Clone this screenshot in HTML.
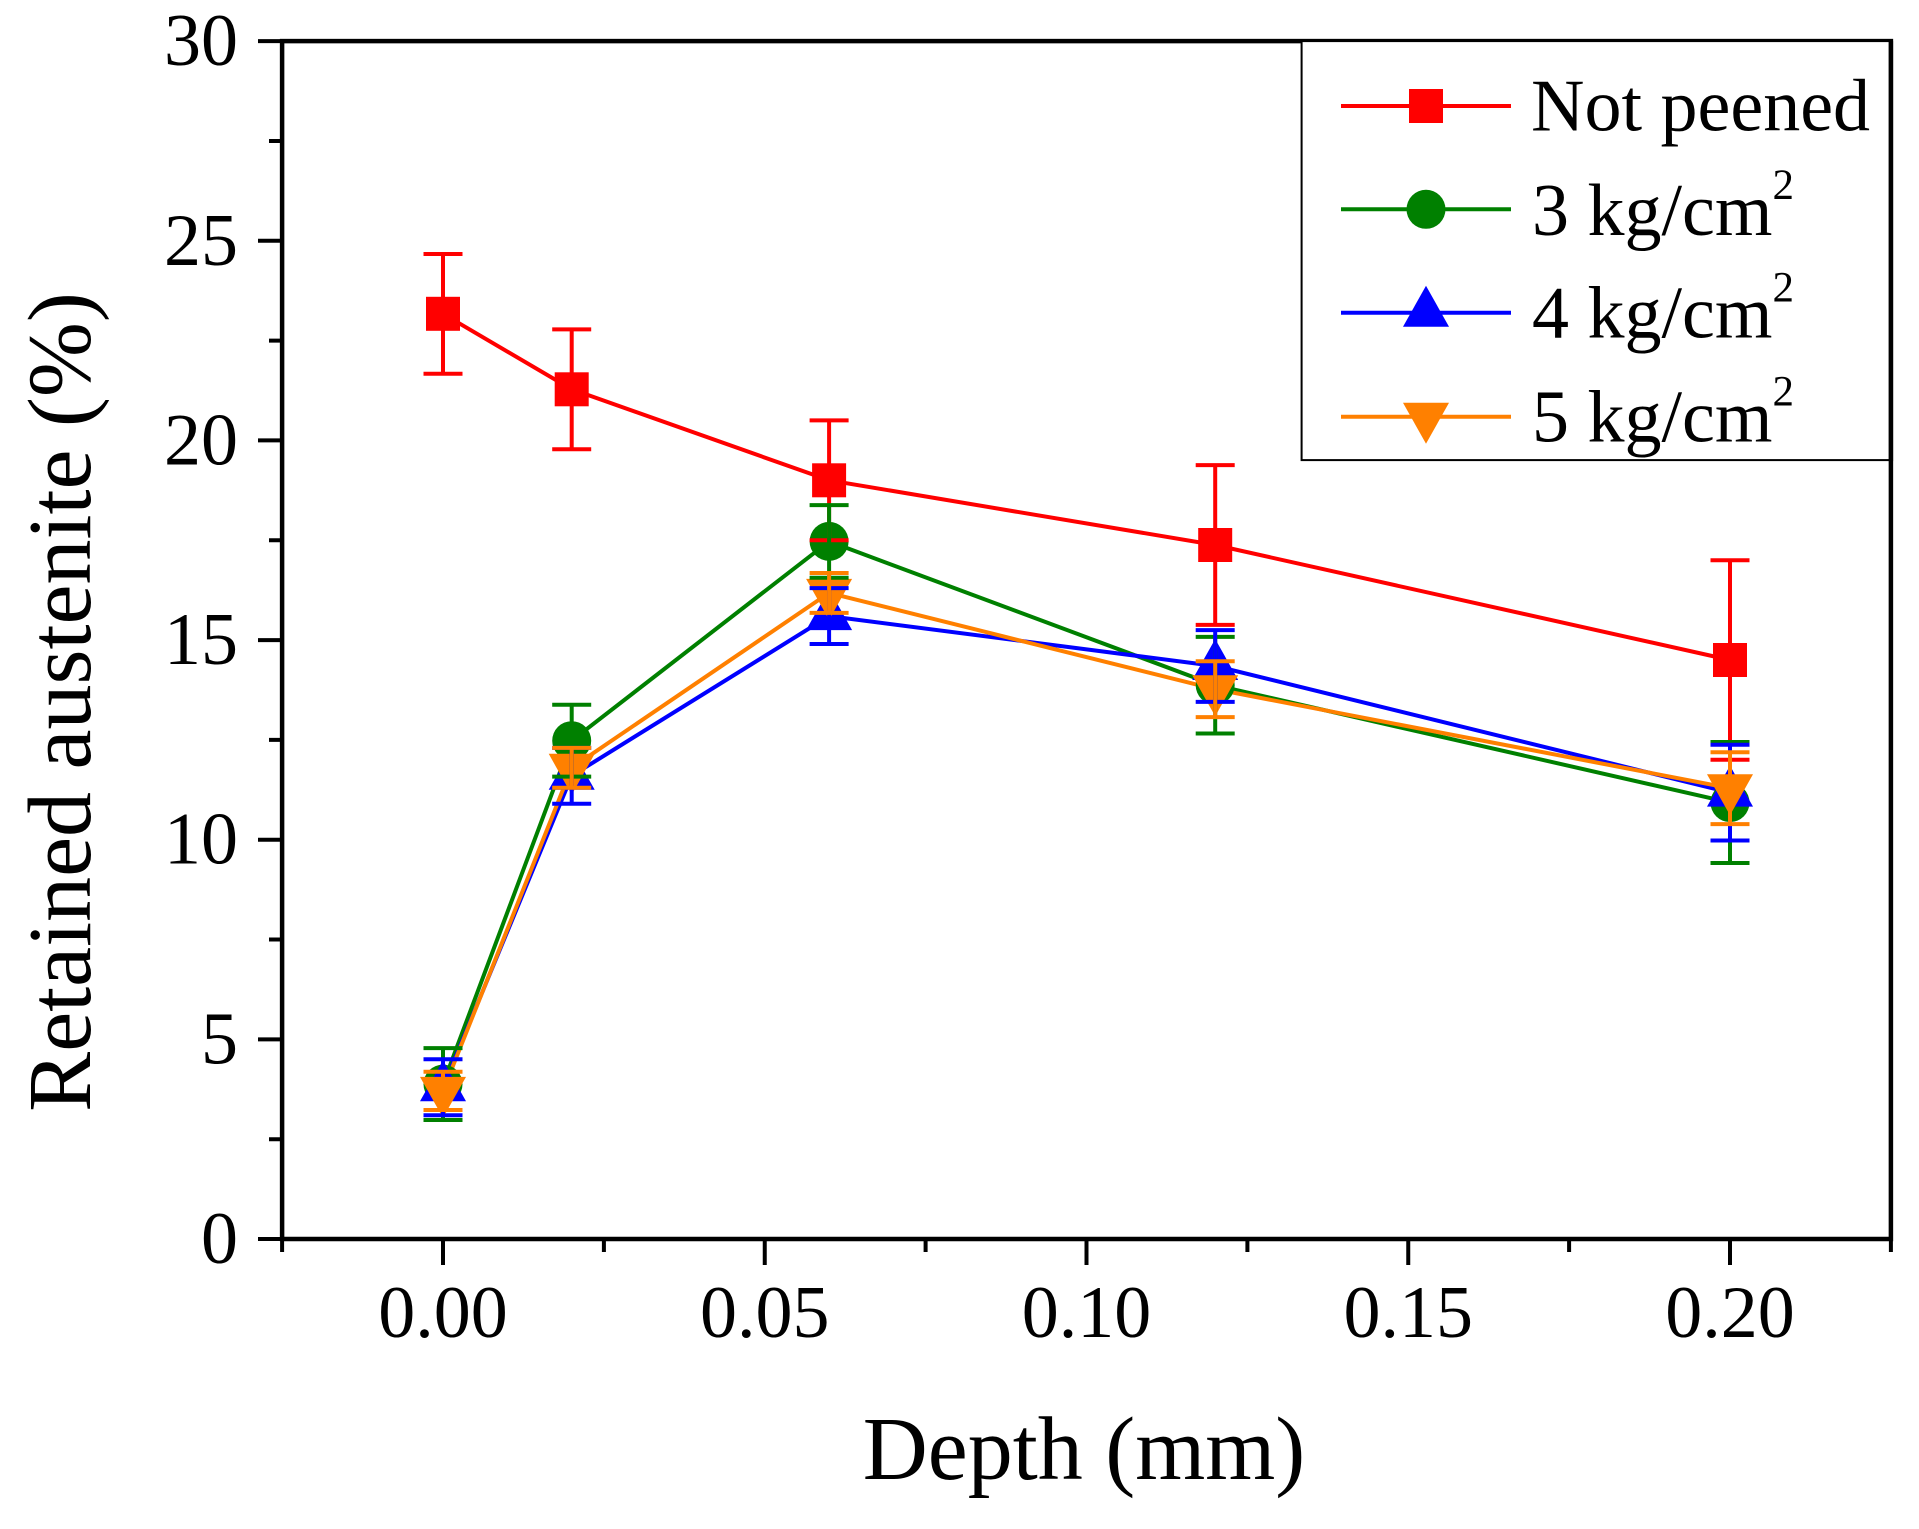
<!DOCTYPE html>
<html><head><meta charset="utf-8"><style>
html,body{margin:0;padding:0;background:#fff;}
svg{display:block;}
text{font-family:"Liberation Serif","Times New Roman",serif;fill:#000;}
</style></head><body>
<svg width="1919" height="1529" viewBox="0 0 1919 1529" xmlns="http://www.w3.org/2000/svg">
<rect width="1919" height="1529" fill="#fff"/>

<!-- data lines -->
<g fill="none" stroke-width="4" stroke-linejoin="round">
<polyline stroke="#FF0000" points="443,313.8 571.7,389.3 829.1,480.3 1215.2,545.0 1730,660.0"/>
<polyline stroke="#008000" points="443,1084.1 571.7,740.7 829.1,541.4 1215.2,685.2 1730,802.6"/>
<polyline stroke="#0000FF" points="443,1087.3 571.7,775.8 829.1,616.1 1215.2,666.0 1730,792.6"/>
<polyline stroke="#FF8000" points="443,1090.9 571.7,767.8 829.1,592.9 1215.2,689.2 1730,788.2"/>
</g>

<!-- markers -->
<g fill="#FF0000">
<rect x="426" y="296.8" width="34" height="34"/>
<rect x="554.7" y="372.3" width="34" height="34"/>
<rect x="812.1" y="463.3" width="34" height="34"/>
<rect x="1198.2" y="528" width="34" height="34"/>
<rect x="1713" y="643" width="34" height="34"/>
</g>
<g fill="#008000">
<circle cx="443" cy="1084.1" r="19.5"/>
<circle cx="571.7" cy="740.7" r="19.5"/>
<circle cx="829.1" cy="541.4" r="19.5"/>
<circle cx="1215.2" cy="685.2" r="19.5"/>
<circle cx="1730" cy="802.6" r="19.5"/>
</g>
<g fill="#0000FF">
<polygon points="443,1060.3 420,1101.3 466,1101.3"/>
<polygon points="571.7,748.8 548.7,789.8 594.7,789.8"/>
<polygon points="829.1,589.1 806.1,630.1 852.1,630.1"/>
<polygon points="1215.2,639 1192.2,680 1238.2,680"/>
<polygon points="1730,765.6 1707,806.6 1753,806.6"/>
</g>
<g fill="#FF8000">
<polygon points="420,1076.9 466,1076.9 443,1117.9"/>
<polygon points="548.7,753.8 594.7,753.8 571.7,794.8"/>
<polygon points="806.1,578.9 852.1,578.9 829.1,619.9"/>
<polygon points="1192.2,675.2 1238.2,675.2 1215.2,716.2"/>
<polygon points="1707,774.2 1753,774.2 1730,815.2"/>
</g>

<!-- error bars -->
<g fill="none" stroke-width="4" stroke="#FF0000">
<path d="M443,254V373.7M423.5,254H462.5M423.5,373.7H462.5"/>
<path d="M571.7,329.4V449.2M552.2,329.4H591.2M552.2,449.2H591.2"/>
<path d="M829.1,420.4V540.2M809.6,420.4H848.6M809.6,540.2H848.6"/>
<path d="M1215.2,465.1V624.9M1195.7,465.1H1234.7M1195.7,624.9H1234.7"/>
<path d="M1730,560.2V759.8M1710.5,560.2H1749.5M1710.5,759.8H1749.5"/>
</g>
<g fill="none" stroke-width="4" stroke="#008000">
<path d="M443,1048.1V1120M423.5,1048.1H462.5M423.5,1120H462.5"/>
<path d="M571.7,704.7V776.6M552.2,704.7H591.2M552.2,776.6H591.2"/>
<path d="M829.1,505.1V577.8M809.6,505.1H848.6M809.6,577.8H848.6"/>
<path d="M1215.2,636.9V733.5M1195.7,636.9H1234.7M1195.7,733.5H1234.7"/>
<path d="M1730,742V863M1710.5,742H1749.5M1710.5,863H1749.5"/>
</g>
<g fill="none" stroke-width="4" stroke="#0000FF">
<path d="M443,1059.3V1115.2M423.5,1059.3H462.5M423.5,1115.2H462.5"/>
<path d="M571.7,747.9V803.8M552.2,747.9H591.2M552.2,803.8H591.2"/>
<path d="M829.1,588.1V644M809.6,588.1H848.6M809.6,644H848.6"/>
<path d="M1215.2,630.1V701.9M1195.7,630.1H1234.7M1195.7,701.9H1234.7"/>
<path d="M1730,744.7V840.5M1710.5,744.7H1749.5M1710.5,840.5H1749.5"/>
</g>
<g fill="none" stroke-width="4" stroke="#FF8000">
<path d="M443,1071.7V1110M423.5,1071.7H462.5M423.5,1110H462.5"/>
<path d="M571.7,747.9V787.8M552.2,747.9H591.2M552.2,787.8H591.2"/>
<path d="M829.1,573V612.9M809.6,573H848.6M809.6,612.9H848.6"/>
<path d="M1215.2,661.2V717.1M1195.7,661.2H1234.7M1195.7,717.1H1234.7"/>
<path d="M1730,752.3V824.1M1710.5,752.3H1749.5M1710.5,824.1H1749.5"/>
</g>

<!-- axes frame -->
<rect x="282.1" y="41.1" width="1608.8" height="1197.9" fill="none" stroke="#000" stroke-width="4.5"/>

<!-- y ticks -->
<g stroke="#000" stroke-width="4">
<path d="M258,1239H282M269,1139.2H282M258,1039.4H282M269,939.5H282M258,839.7H282M269,739.9H282M258,640.1H282M269,540.2H282M258,440.4H282M269,340.6H282M258,240.8H282M269,141H282M258,41.1H282"/>
<path d="M282.1,1239V1252M443,1239V1265M603.9,1239V1252M764.75,1239V1265M925.6,1239V1252M1086.5,1239V1265M1247.4,1239V1252M1408.25,1239V1265M1569.1,1239V1252M1730,1239V1265M1890.9,1239V1252"/>
</g>

<!-- y tick labels -->
<g font-size="74" text-anchor="end">
<text x="238" y="1263">0</text>
<text x="238" y="1063.4">5</text>
<text x="238" y="863.7">10</text>
<text x="238" y="664.1">15</text>
<text x="238" y="464.4">20</text>
<text x="238" y="264.8">25</text>
<text x="238" y="65.1">30</text>
</g>
<!-- x tick labels -->
<g font-size="74" text-anchor="middle">
<text x="443" y="1337">0.00</text>
<text x="764.75" y="1337">0.05</text>
<text x="1086.5" y="1337">0.10</text>
<text x="1408.25" y="1337">0.15</text>
<text x="1730" y="1337">0.20</text>
</g>

<!-- axis titles -->
<text x="1084" y="1479" font-size="90" text-anchor="middle">Depth (mm)</text>
<text transform="translate(90,702) rotate(-90)" font-size="90" text-anchor="middle">Retained austenite (%)</text>

<!-- legend -->
<rect x="1301.6" y="41.1" width="589.3" height="419" fill="#fff" stroke="#000" stroke-width="2"/>
<rect x="1888.6" y="41.1" width="4.5" height="420" fill="#000"/>
<g stroke-width="4">
<line x1="1341" y1="106" x2="1511" y2="106" stroke="#FF0000"/>
<line x1="1341" y1="209.3" x2="1511" y2="209.3" stroke="#008000"/>
<line x1="1341" y1="312.7" x2="1511" y2="312.7" stroke="#0000FF"/>
<line x1="1341" y1="416.7" x2="1511" y2="416.7" stroke="#FF8000"/>
</g>
<rect x="1409" y="89" width="34" height="34" fill="#FF0000"/>
<circle cx="1426" cy="209.3" r="19.5" fill="#008000"/>
<polygon points="1426,285.7 1403,326.7 1449,326.7" fill="#0000FF"/>
<polygon points="1403,402.7 1449,402.7 1426,443.7" fill="#FF8000"/>
<g font-size="74">
<text x="1531" y="130.7">Not peened</text>
<text x="1532" y="235">3 kg/cm<tspan dy="-36" font-size="43">2</tspan></text>
<text x="1532" y="337.7">4 kg/cm<tspan dy="-36" font-size="43">2</tspan></text>
<text x="1532" y="441.7">5 kg/cm<tspan dy="-36" font-size="43">2</tspan></text>
</g>
</svg>
</body></html>
